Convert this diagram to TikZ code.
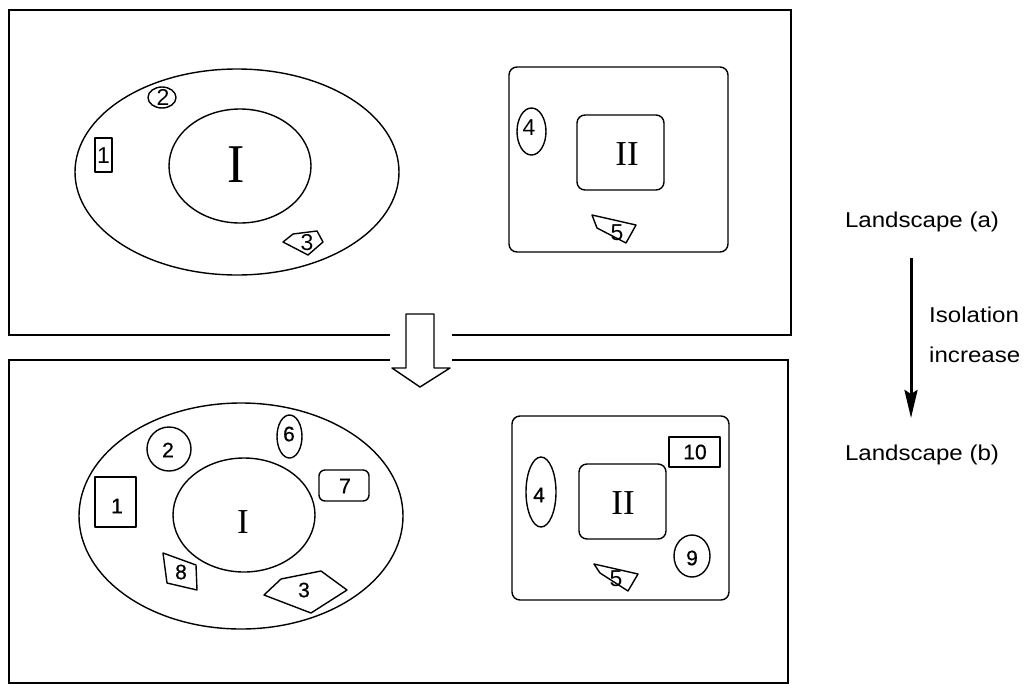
\documentclass[tikz,border=0pt]{standalone}
\usepackage{fontspec}
\setmainfont{Liberation Serif}
\newfontfamily\lsans{Liberation Sans}
\newfontfamily\lsansb[FakeBold=0.6]{Liberation Sans}
\usetikzlibrary{arrows.meta}
\tikzset{
  frame/.style={line width=2.2pt, line join=miter},
  shp/.style={line width=1.4pt, line join=round},
  numA/.style={font=\lsans\fontsize{23}{23}\selectfont, inner sep=0pt},
  numB/.style={font=\lsansb\fontsize{21}{21}\selectfont, inner sep=0pt},
  roman/.style={font=\fontsize{#1}{#1}\selectfont, inner sep=0pt},
  side/.style={font=\lsans\fontsize{21.5}{21.5}\selectfont, inner sep=0pt, xscale=1.12, transform shape},
}
\begin{document}
\begin{tikzpicture}[x=1pt,y=-1pt]
\useasboundingbox (0,0) rectangle (1027,683);
% frames
\draw[frame] (390,335) -- (9,335) -- (9,10) -- (791,10) -- (791,335) -- (452,335);
\draw[frame] (390,360) -- (9,360) -- (9,683) -- (788,683) -- (788,360) -- (452,360);
% hollow arrow
\draw[shp] (406,314) -- (434,314) -- (434,368) -- (450,368) -- (420,387) -- (392,368) -- (406,368) -- cycle;

% ---------- Landscape (a) ----------
\draw[shp] (237,172) ellipse [x radius=162, y radius=103];
\draw[shp] (240,166) ellipse [x radius=71, y radius=57];
\node[roman=52, yscale=1.05] (Ia) at (236,165) {I};
\draw[shp] (95,138) rectangle (112,172);
\node[numA] (a1) at (103.5,156) {1};
\draw[shp] (162,97.5) ellipse [x radius=14, y radius=10.5];
\node[numA] (a2) at (163,97) {2};
\draw[shp] (283,242) -- (293,234) -- (317,231) -- (323,242) -- (308,255) -- cycle;
\node[numA] (a3) at (307,243) {3};
\draw[shp, rounded corners=8pt] (509,67) rectangle (728,252);
\draw[shp, rounded corners=8pt] (577,115) rectangle (664,190);
\node[roman=35] (IIa) at (627,154) {II};
\draw[shp] (531.5,131.5) ellipse [x radius=14.5, y radius=23.5];
\node[numA] (a4) at (529,128) {4};
\draw[shp] (592,215) -- (636,225) -- (626,243) -- (597,228) -- cycle;
\node[numA] (a5) at (617,233) {5};

% ---------- Landscape (b) ----------
\draw[shp] (241,516) ellipse [x radius=162, y radius=113];
\draw[shp] (244,515) ellipse [x radius=71, y radius=57];
\node[roman=35] (Ib) at (243,522) {I};
\draw[shp] (95,477) rectangle (136,527);
\node[numB] (b1) at (117,506) {1};
\draw[shp] (169,449) circle [radius=22];
\node[numB] (b2) at (168,450) {2};
\draw[shp] (289.5,436.5) ellipse [x radius=12.5, y radius=21.5];
\node[numB] (b6) at (289,434) {6};
\draw[shp, rounded corners=6pt] (319,470) rectangle (369,501);
\node[numB] (b7) at (345,486) {7};
\draw[shp] (163,553) -- (196,565) -- (197,590) -- (167,583) -- cycle;
\node[numB] (b8) at (181,572) {8};
\draw[shp] (264,595) -- (281,579) -- (321,571) -- (347,590) -- (311,613) -- cycle;
\node[numB] (b3) at (304,590) {3};
\draw[shp, rounded corners=8pt] (512,416) rectangle (729,600);
\draw[shp, rounded corners=8pt] (579,464) rectangle (666,539);
\node[roman=35] (IIb) at (623,503) {II};
\draw[shp] (669,437) rectangle (720,467);
\node[numB] (b10) at (695,452) {10};
\draw[shp] (541,492) ellipse [x radius=15, y radius=35];
\node[numB] (b4) at (539,495) {4};
\draw[shp] (692,556) ellipse [x radius=18, y radius=21];
\node[numB] (b9) at (692,558) {9};
\draw[shp] (594,564) -- (638,574) -- (628,591) -- (600,573) -- cycle;
\node[numA] (b5) at (616,579) {5};

% ---------- side legend ----------
\node[side] (la) at (922,222) {Landscape (a)};
\node[side] (lb) at (922,455) {Landscape (b)};
\node[side, anchor=west] (iso) at (929,315) {Isolation};
\node[side, anchor=west] (inc) at (929,355) {increase};
\coordinate (arS) at (911,258);
\coordinate (arE) at (911,418);
\draw[line width=3pt, -{Stealth[length=28pt, width=13pt, inset=4pt]}] (arS) -- (arE);
\end{tikzpicture}
\end{document}
